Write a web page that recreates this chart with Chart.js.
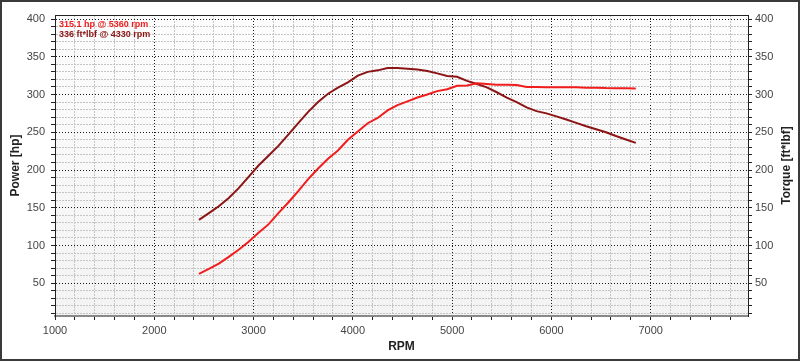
<!DOCTYPE html>
<html><head><meta charset="utf-8">
<script src="https://cdn.jsdelivr.net/npm/chart.js@4.4.0/dist/chart.umd.min.js"></script>
<style>
html,body{margin:0;padding:0;background:#fff;}
#wrap{position:relative;width:800px;height:361px;}
canvas{display:block;}
#frame{position:absolute;left:0;top:0;width:800px;height:361px;box-sizing:border-box;border:2px solid #3a3a3a;pointer-events:none;}
</style></head><body>
<div id="wrap"><canvas id="c" width="800" height="361"></canvas><div id="frame"></div></div>
<script>
const rpm = [2450,2550,2650,2750,2850,2950,3050,3150,3250,3350,3450,3550,3650,3750,3850,3950,4050,4150,4250,4350,4450,4550,4650,4750,4850,4950,5050,5150,5250,5350,5450,5550,5650,5750,5850,5950,6050,6150,6250,6350,6450,6550,6650,6750,6850];
const powerHp = [62.5,69,76,85,94.5,105,117,128,143,157,172,188,202,215,226,240,251,262,269,279,286,291,296,300,304.5,307,311.5,312,315,314,313,313,312.5,310,310,309.5,309.5,309.5,309.5,309,309,308.5,308.3,308.2,308];
const torqueFtLbf = [134,143,152,163,176,191,206,219,232,247,262,277,290,301,309,316,325,330,332,335,335,334,333,331,328,324.5,323.5,318,314,309.5,303,296,290,283,278,275,271,267,262.5,258,254,250,245,240.5,236];
const peakLabels = ['315.1 hp @ 5360 rpm', '336 ft*lbf @ 4330 rpm'];
const axisTitles = { x: 'RPM', left: 'Power [hp]', right: 'Torque [ft*lbf]' };
const xTickLabels = [1000, 2000, 3000, 4000, 5000, 6000, 7000];
const yTickLabels = [50, 100, 150, 200, 250, 300, 350, 400];
const rpmRange = [1000, 7980];
const valueRange = [6.7, 405.3];
const xMinorStep = 200;
const yMinorStep = 10;

const FONT = '"Liberation Sans", Arial, sans-serif';
const POWER_COLOR = '#f21c1c';
const TORQUE_COLOR = '#8c1414';

function minorTicks(lo, hi, step) {
  const out = [];
  for (let v = Math.ceil(lo / step) * step; v <= hi; v += step) out.push({ value: v });
  return out;
}

const deco = {
  id: 'deco',
  beforeDraw(chart) {
    const {ctx, chartArea: a} = chart;
    const g = ctx.createLinearGradient(0, a.top, 0, a.bottom);
    g.addColorStop(0, '#fdfdfd');
    g.addColorStop(1, '#f3f3f3');
    ctx.save();
    ctx.fillStyle = g;
    ctx.fillRect(a.left, a.top, a.right - a.left, a.bottom - a.top);
    ctx.restore();
  },
  afterDraw(chart) {
    const {ctx, chartArea: a} = chart;
    ctx.save();
    ctx.strokeStyle = '#222';
    ctx.lineWidth = 1;
    ctx.beginPath();
    ctx.moveTo(a.left, a.top + 0.5);
    ctx.lineTo(a.right, a.top + 0.5);
    ctx.stroke();
    ctx.translate(787, (a.top + a.bottom) / 2);
    ctx.rotate(-Math.PI / 2);
    ctx.font = 'bold 12px ' + FONT;
    ctx.fillStyle = '#222';
    ctx.textAlign = 'center';
    ctx.textBaseline = 'middle';
    ctx.fillText(axisTitles.right, 0, 0);
    ctx.restore();
    ctx.save();
    ctx.font = 'bold 9px ' + FONT;
    ctx.textBaseline = 'middle';
    ctx.textAlign = 'left';
    ctx.fillStyle = POWER_COLOR;
    ctx.fillText(peakLabels[0], a.left + 4, 25);
    ctx.fillStyle = TORQUE_COLOR;
    ctx.fillText(peakLabels[1], a.left + 4, 34.5);
    ctx.restore();
  }
};

const isMajorX = v => xTickLabels.includes(v);
const isMajorY = v => yTickLabels.includes(v);

new Chart(document.getElementById('c'), {
  type: 'line',
  data: {
    datasets: [
      { label: 'Power [hp]', data: rpm.map((r, i) => ({x: r, y: powerHp[i]})), yAxisID: 'y',
        borderColor: POWER_COLOR, borderWidth: 2, pointRadius: 0, tension: 0, fill: false },
      { label: 'Torque [ft*lbf]', data: rpm.map((r, i) => ({x: r, y: torqueFtLbf[i]})), yAxisID: 'y1',
        borderColor: TORQUE_COLOR, borderWidth: 2, pointRadius: 0, tension: 0, fill: false }
    ]
  },
  options: {
    responsive: false,
    animation: false,
    devicePixelRatio: 1,
    layout: { padding: { top: 15, left: 0, right: 0, bottom: 0 } },
    plugins: { legend: { display: false }, tooltip: { enabled: false } },
    scales: {
      x: {
        type: 'linear', position: 'bottom', min: rpmRange[0], max: rpmRange[1],
        afterFit: s => { s.height = 45; },
        afterBuildTicks: s => { s.ticks = minorTicks(rpmRange[0], rpmRange[1], xMinorStep); },
        ticks: { autoSkip: false, maxRotation: 0,
          callback: v => isMajorX(v) ? String(v) : '',
          color: '#444', font: { family: FONT, size: 11 }, padding: 4 },
        grid: { color: c => isMajorX(c.tick.value) ? '#1a1a1a' : '#c4c4c4', lineWidth: 1,
          tickLength: 4, tickColor: '#222' },
        border: { color: '#888', width: 2, dash: c => (c.tick && isMajorX(c.tick.value)) ? [1, 2] : [2, 1] },
        title: { display: true, text: axisTitles.x, color: '#222', font: { family: FONT, size: 12, weight: 'bold' },
          padding: { top: 0, bottom: 7 } }
      },
      y: {
        type: 'linear', position: 'left', min: valueRange[0], max: valueRange[1],
        afterFit: s => { s.width = 55; },
        afterBuildTicks: s => { s.ticks = minorTicks(valueRange[0], valueRange[1], yMinorStep); },
        ticks: { autoSkip: false,
          callback: v => isMajorY(v) ? String(v) : '',
          color: '#444', font: { family: FONT, size: 11 }, padding: 6 },
        grid: { color: c => isMajorY(c.tick.value) ? '#1a1a1a' : '#c4c4c4', lineWidth: 1,
          tickLength: 4, tickColor: '#222' },
        border: { color: '#222', width: 1, dash: c => (c.tick && isMajorY(c.tick.value)) ? [1, 2] : [2, 1] },
        title: { display: true, text: axisTitles.left, color: '#222', font: { family: FONT, size: 12, weight: 'bold' },
          padding: { top: 8, bottom: 0 } }
      },
      y1: {
        type: 'linear', position: 'right', min: valueRange[0], max: valueRange[1],
        afterFit: s => { s.width = 52; },
        afterBuildTicks: s => { s.ticks = minorTicks(valueRange[0], valueRange[1], yMinorStep); },
        ticks: { autoSkip: false,
          callback: v => isMajorY(v) ? String(v) : '',
          color: '#444', font: { family: FONT, size: 11 }, padding: 3 },
        grid: { drawOnChartArea: false, tickLength: 4, tickColor: '#222' },
        border: { color: '#222', width: 1 }
      }
    }
  },
  plugins: [deco]
});
</script>
</body></html>
